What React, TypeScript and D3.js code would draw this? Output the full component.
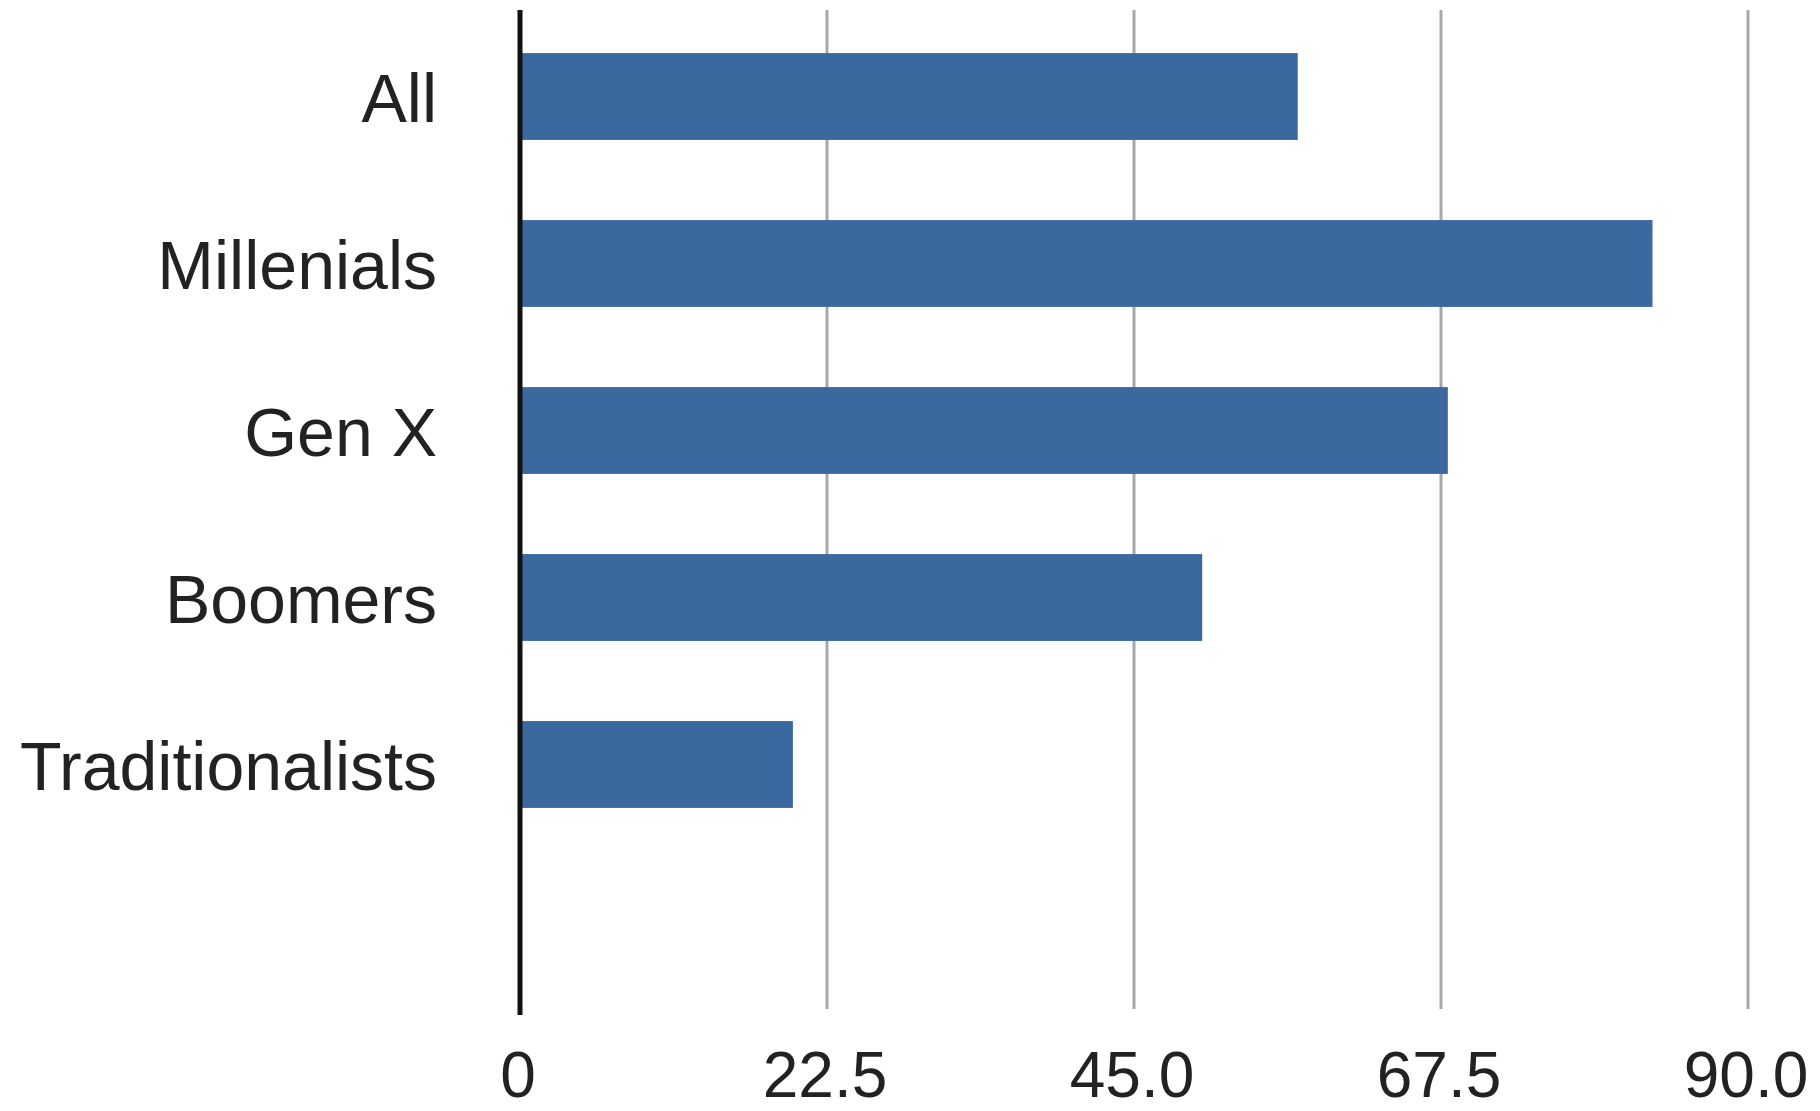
import React from "react";
import * as d3 from "d3";

const categories = ["All", "Millenials", "Gen X", "Boomers", "Traditionalists"];
const values = [57, 83, 68, 50, 20];
const xTicks = [0, 22.5, 45, 67.5, 90];
const xTickLabels = ["0", "22.5", "45.0", "67.5", "90.0"];

const W = 1820;
const H = 1111;
const plotLeft = 520;
const plotRight = 1748;
const plotTop = 10;
const plotBottom = 1012;

export default function App() {
  const x = d3.scaleLinear().domain([0, 90]).range([plotLeft, plotRight]);
  const step = (plotBottom - plotTop) / 6;
  const y = d3
    .scaleBand<string>()
    .domain(categories)
    .range([plotTop + 3, plotTop + 3 + step * categories.length])
    .paddingInner(0.48)
    .paddingOuter(0.24);
  const font = "'Liberation Sans', Arial, Helvetica, sans-serif";
  return (
    <svg
      width={W}
      height={H}
      style={{ position: "absolute", left: 0, top: 0, display: "block", background: "#fff" }}
    >
      {xTicks.slice(1).map((t) => (
        <line
          key={"g" + t}
          x1={x(t)}
          x2={x(t)}
          y1={plotTop}
          y2={plotBottom - 3}
          stroke="#a8a8a8"
          strokeWidth={3}
        />
      ))}
      {categories.map((c, i) => (
        <rect
          key={c}
          x={x(0)}
          y={y(c)}
          width={x(values[i]) - x(0)}
          height={y.bandwidth()}
          fill="#3b689f"
        />
      ))}
      <line x1={x(0)} x2={x(0)} y1={plotTop} y2={plotBottom + 3} stroke="#111" strokeWidth={5} />
      {categories.map((c) => (
        <text
          key={"l" + c}
          x={437}
          y={(y(c) as number) + y.bandwidth() / 2 + 25}
          textAnchor="end"
          fontFamily={font}
          fontSize={68}
          fill="#222"
        >
          {c}
        </text>
      ))}
      {xTicks.map((t, i) => (
        <text
          key={"t" + t}
          x={x(t) - 2}
          y={1097}
          textAnchor="middle"
          fontFamily={font}
          fontSize={64}
          fill="#222"
        >
          {xTickLabels[i]}
        </text>
      ))}
    </svg>
  );
}
